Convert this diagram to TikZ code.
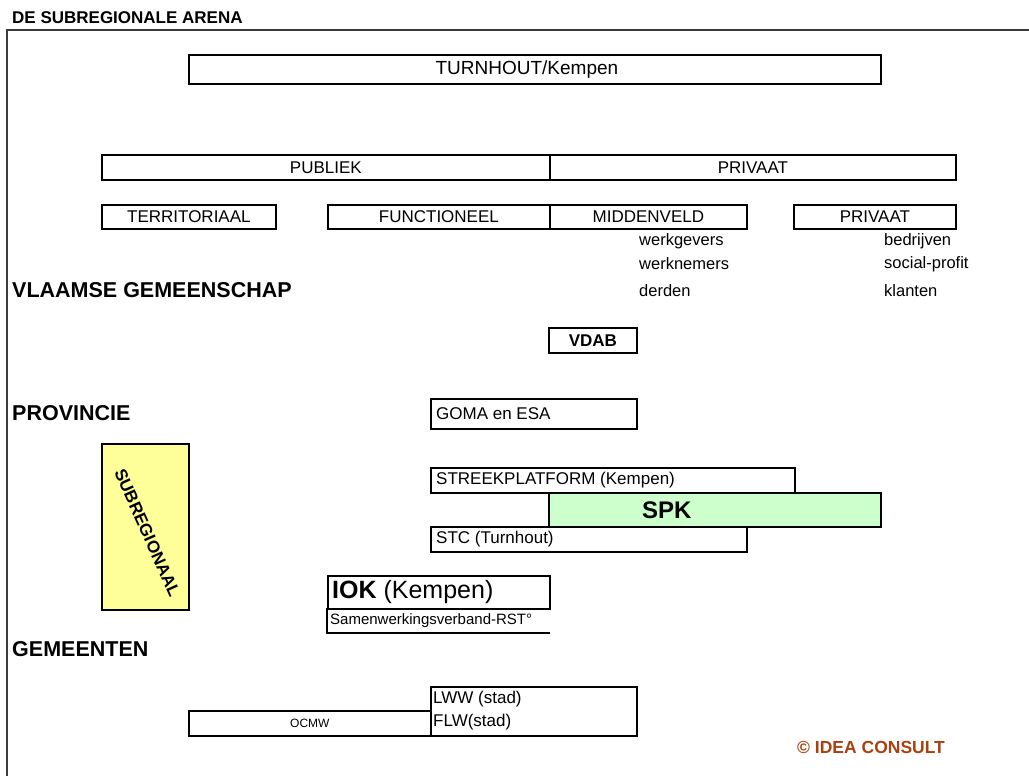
\documentclass[tikz,border=0pt]{standalone}
\usepackage{fontspec}
\setmainfont{Liberation Sans}
\definecolor{subyellow}{RGB}{255,255,153}
\definecolor{spkgreen}{RGB}{204,255,204}
\definecolor{ideabrown}{RGB}{170,64,16}
\definecolor{framegray}{RGB}{60,60,60}
\begin{document}
\begin{tikzpicture}[x=1pt,y=-1pt,
  box/.style={draw=black,line width=1.8pt,inner sep=0pt,anchor=north west},
  lbl/.style={inner sep=0pt,font=\fontsize{17}{17}\selectfont},
  lbll/.style={lbl,anchor=west},
  head/.style={inner sep=0pt,anchor=west,font=\fontsize{21.5}{21.5}\selectfont\bfseries},
  sub/.style={inner sep=0pt,anchor=west,font=\fontsize{16.5}{16.5}\selectfont}]
\useasboundingbox (0,0) rectangle (1029,776);
% frame
\coordinate (fbl) at (7,776);
\coordinate (ftl) at (7,30);
\coordinate (ftr) at (1029,30);
\draw[framegray,line width=1.8pt] (fbl) -- (ftl) -- (ftr);
\node[inner sep=0pt,anchor=west,font=\fontsize{17}{17}\selectfont\bfseries] (title) at (12,18) {DE SUBREGIONALE ARENA};
% top
\node[box,minimum width=692,minimum height=29] (turn) at (188,54) {};
\node[lbl,font=\fontsize{19}{19}\selectfont] (turnt) at ([xshift=-8pt]turn.center) {TURNHOUT/Kempen};
\node[box,minimum width=448,minimum height=25] (publ) at (101,154) {};
\node[lbl] (publt) at (publ.center) {PUBLIEK};
\node[box,minimum width=406,minimum height=25] (priv) at (549,154) {};
\node[lbl] (privt) at (priv.center) {PRIVAAT};
\node[box,minimum width=174,minimum height=24] (terr) at (101,204) {};
\node[lbl] (terrt) at (terr.center) {TERRITORIAAL};
\node[box,minimum width=222,minimum height=24] (func) at (327,204) {};
\node[lbl] (funct) at (func.center) {FUNCTIONEEL};
\node[box,minimum width=197,minimum height=24] (midd) at (549,204) {};
\node[lbl] (middt) at (midd.center) {MIDDENVELD};
\node[box,minimum width=162,minimum height=24] (priv2) at (793,204) {};
\node[lbl] (priv2t) at (priv2.center) {PRIVAAT};
% sub lists
\node[sub] (wg) at (639,241) {werkgevers};
\node[sub] (wn) at (639,264) {werknemers};
\node[sub] (dd) at (639,291) {derden};
\node[sub] (bd) at (884,241) {bedrijven};
\node[sub] (sp) at (884,264) {social-profit};
\node[sub] (kl) at (884,291) {klanten};
% levels
\node[head] (vg) at (12,290) {VLAAMSE GEMEENSCHAP};
\node[head] (pv) at (12,413) {PROVINCIE};
\node[head] (gm) at (12,649) {GEMEENTEN};
% VDAB
\node[box,minimum width=88,minimum height=25] (vdab) at (548,327) {};
\node[lbl,font=\fontsize{17}{17}\selectfont\bfseries] (vdabt) at (vdab.center) {VDAB};
% GOMA
\node[box,minimum width=206,minimum height=30] (goma) at (430,398) {};
\node[lbll] (gomat) at ([xshift=6pt]goma.west) {GOMA en ESA};
% subregionaal
\node[box,fill=subyellow,minimum width=87,minimum height=166] (subr) at (101,443) {};
\node[inner sep=0pt,rotate=-66,font=\fontsize{17}{17}\selectfont\bfseries] (subrt) at ([xshift=2pt,yshift=-6pt]subr.center) {SUBREGIONAAL};
% streekplatform etc
\node[box,minimum width=364,minimum height=25] (strk) at (430,467) {};
\node[lbll] (strkt) at ([xshift=6pt]strk.west) {STREEKPLATFORM (Kempen)};
\node[box,minimum width=316,minimum height=25] (stc) at (430,526) {};
\node[lbll] (stct) at ([xshift=6pt]stc.west) {STC (Turnhout)};
\node[box,fill=spkgreen,minimum width=332,minimum height=34] (spk) at (548,492) {};
\node[lbl,font=\fontsize{24}{24}\selectfont\bfseries] (spkt) at ([xshift=-48pt]spk.center) {SPK};
% IOK
\node[box,minimum width=222,minimum height=33] (iok) at (327,575) {};
\node[lbll,font=\fontsize{25}{25}\selectfont] (iokt) at ([xshift=5pt]iok.west) {\textbf{IOK} (Kempen)};
\coordinate (samtl) at (327,608);
\coordinate (sambl) at (327,633);
\coordinate (sambr) at (550,633);
\draw[line width=1.8pt] (samtl) -- (sambl) -- (sambr);
\node[lbll,font=\fontsize{15}{15}\selectfont] (samt) at (330,621) {Samenwerkingsverband-RST°};
% gemeenten
\node[box,minimum width=242,minimum height=25] (ocmw) at (188,710) {};
\node[lbl,font=\fontsize{12}{12}\selectfont] (ocmwt) at (ocmw.center) {OCMW};
\node[box,minimum width=206,minimum height=49] (lww) at (430,686) {};
\node[lbll] (lwwt) at (433,699) {LWW (stad)};
\node[lbll] (flwt) at (433,722) {FLW(stad)};
% credit
\node[inner sep=0pt,anchor=west,text=ideabrown,font=\fontsize{17.5}{17.5}\selectfont\bfseries] (idea) at (797,747) {© IDEA CONSULT};
\end{tikzpicture}
\end{document}
